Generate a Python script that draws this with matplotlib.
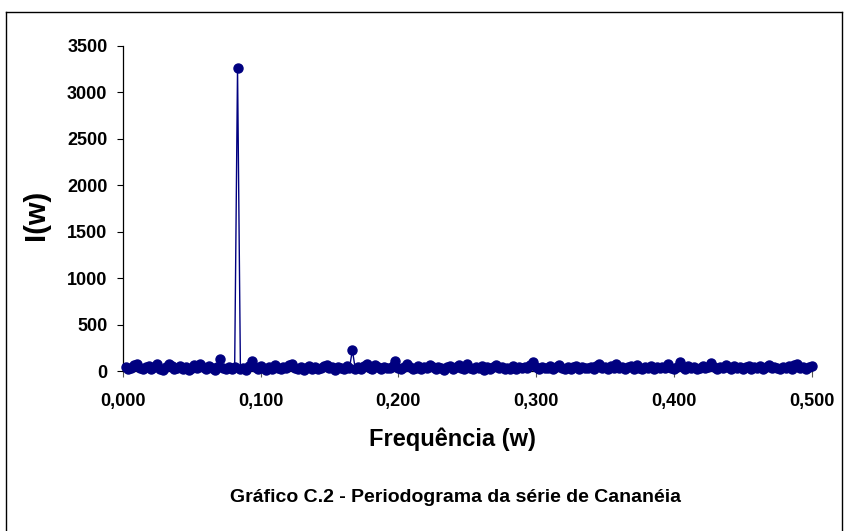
import matplotlib
matplotlib.use("Agg")
import matplotlib.pyplot as plt
from matplotlib.lines import Line2D
import numpy as np

plt.rcParams['font.family'] = ['Liberation Sans', 'DejaVu Sans']

# Periodogram of a monthly series (N = 480): frequencies k/480, k = 1..240
n_obs = 480
k_index = list(range(1, 241))
periodogram = [
    48, 22, 35, 61, 78, 30, 18, 42, 55, 26,
    38, 72, 25, 14, 46, 80, 52, 20, 33, 58,
    24, 40, 15, 36, 62, 28, 76, 45, 19, 50,
    27, 12, 44, 128, 31, 22, 48, 18, 38, 3262,
    26, 34, 16, 52, 104, 40, 21, 55, 30, 14,
    43, 25, 60, 35, 18, 47, 29, 66, 74, 32,
    20, 41, 15, 37, 56, 24, 45, 19, 34, 52,
    70, 28, 38, 16, 46, 30, 22, 58, 35, 224,
    26, 42, 18, 50, 80, 33, 24, 60, 38, 20,
    45, 28, 36, 55, 104, 30, 19, 48, 72, 40,
    25, 36, 52, 18, 44, 28, 70, 38, 22, 48,
    32, 16, 40, 55, 26, 38, 68, 30, 22, 74,
    35, 20, 47, 28, 52, 16, 38, 24, 44, 66,
    30, 48, 18, 36, 25, 50, 22, 40, 28, 45,
    34, 60, 92, 38, 20, 45, 28, 35, 52, 24,
    40, 70, 30, 18, 46, 26, 38, 55, 20, 42,
    28, 35, 48, 22, 58, 74, 32, 40, 25, 50,
    36, 72, 28, 44, 20, 38, 52, 26, 68, 34,
    22, 46, 30, 55, 18, 40, 28, 48, 36, 75,
    32, 20, 44, 96, 38, 26, 50, 30, 42, 24,
    36, 55, 28, 45, 88, 40, 22, 48, 30, 70,
    38, 24, 52, 30, 46, 20, 40, 58, 26, 44,
    32, 50, 22, 38, 60, 28, 45, 34, 20, 48,
    36, 55, 26, 64, 80, 30, 42, 24, 38, 52,
]
freq = [k / n_obs for k in k_index]

x_ticks = [0.0, 0.1, 0.2, 0.3, 0.4, 0.5]
x_ticklabels = ["0,000", "0,100", "0,200", "0,300", "0,400", "0,500"]
y_ticks = [0, 500, 1000, 1500, 2000, 2500, 3000, 3500]
y_ticklabels = ["0", "500", "1000", "1500", "2000", "2500", "3000", "3500"]

W, H = 844, 531
fig = plt.figure(figsize=(W / 100, H / 100), dpi=100)

x0, x1 = 122.7, 811.7
y0, y1 = 371.0, 46.0
ax = fig.add_axes([x0 / W, 1 - y0 / H, (x1 - x0) / W, (y0 - y1) / H])

ax.plot(freq, periodogram, color="#000080", linewidth=1.0, marker="o",
        markersize=6.5, markerfacecolor="#000080", markeredgecolor="#000080",
        clip_on=False, zorder=3)

ax.set_xlim(0, 0.5)
ax.set_ylim(0, 3500)
ax.set_xticks(x_ticks)
ax.set_xticklabels(x_ticklabels)
ax.set_yticks(y_ticks)
ax.set_yticklabels(y_ticklabels)

for s in ["top", "right"]:
    ax.spines[s].set_visible(False)
for s in ["left", "bottom"]:
    ax.spines[s].set_color("black")
    ax.spines[s].set_linewidth(0.9)

ax.tick_params(axis="y", direction="out", length=4, width=0.8, color="black",
               labelsize=13, pad=7)
ax.tick_params(axis="x", direction="out", length=4, width=0.8, color="#555555",
               labelsize=13, pad=12)
for lab in ax.get_xticklabels() + ax.get_yticklabels():
    lab.set_fontweight("bold")

fig.text(36 / W, 1 - 215 / H, "I(w)", rotation=90, ha="center", va="center",
         fontsize=21, fontweight="bold")
fig.text(452 / W, 1 - 439 / H, "Frequência (w)", ha="center", va="center",
         fontsize=17, fontweight="bold")
fig.text(455 / W, 1 - 498 / H, "Gráfico C.2 - Periodograma da série de Cananéia",
         ha="center", va="center", fontsize=14, fontweight="bold")

# outer chart frame
frame_kw = dict(color="black", linewidth=1.0, transform=fig.transFigure)
fig.add_artist(Line2D([6 / W, 6 / W], [0, 1 - 12 / H], **frame_kw))
fig.add_artist(Line2D([6 / W, 842 / W], [1 - 12 / H, 1 - 12 / H], **frame_kw))
fig.add_artist(Line2D([842 / W, 842 / W], [0, 1 - 12 / H], **frame_kw))

fig.savefig("out.png", dpi=100)
